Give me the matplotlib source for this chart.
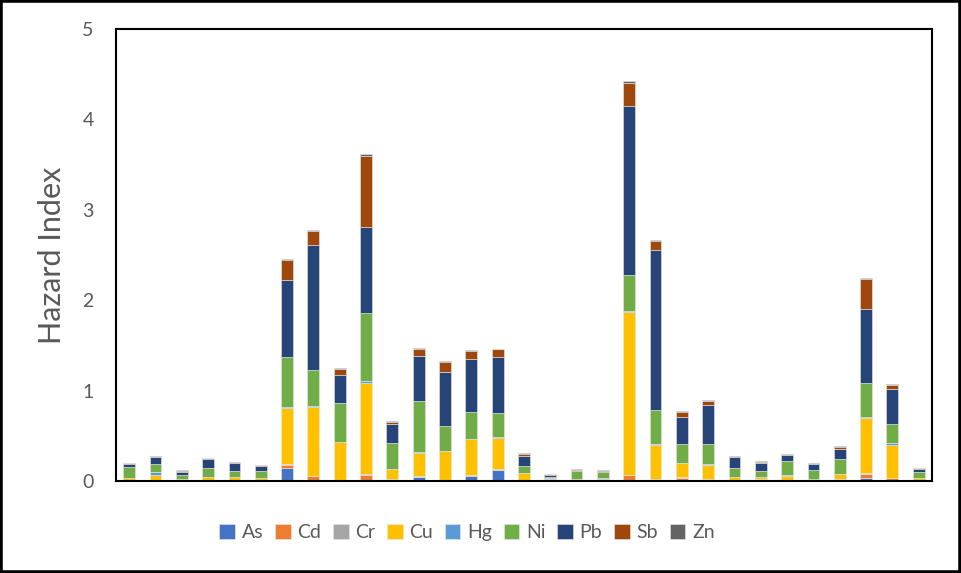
import matplotlib.pyplot as plt
import numpy as np

# Hazard index per metal, one value per sampling site (31 sites)
metals = ["As", "Cd", "Cr", "Cu", "Hg", "Ni", "Pb", "Sb", "Zn"]

As = [0.003, 0.003, 0.002, 0.003, 0.003, 0.003, 0.145, 0.005, 0.003, 0.005, 0.003,
      0.04, 0.003, 0.06, 0.12, 0.003, 0.002, 0.002, 0.002, 0.015, 0.015, 0.015,
      0.003, 0.003, 0.003, 0.002, 0.002, 0.003, 0.035, 0.005, 0.002]
Cd = [0.005, 0.005, 0.003, 0.005, 0.004, 0.004, 0.035, 0.045, 0.005, 0.065, 0.012,
      0.008, 0.003, 0.005, 0.005, 0.007, 0.003, 0.003, 0.003, 0.05, 0.003, 0.02,
      0.015, 0.005, 0.015, 0.003, 0.002, 0.012, 0.045, 0.025, 0.003]
Cr = [0.002, 0.003, 0.002, 0.003, 0.003, 0.002, 0.01, 0.005, 0.003, 0.007, 0.005,
      0.003, 0.002, 0.005, 0.005, 0.002, 0.002, 0.002, 0.002, 0.005, 0.003, 0.005,
      0.002, 0.002, 0.003, 0.002, 0.002, 0.002, 0.008, 0.005, 0.002]
Cu = [0.02, 0.06, 0.01, 0.035, 0.03, 0.02, 0.62, 0.765, 0.415, 1.01, 0.115,
      0.26, 0.325, 0.394, 0.35, 0.078, 0.02, 0.015, 0.015, 1.80, 0.38, 0.16,
      0.162, 0.035, 0.025, 0.052, 0.015, 0.059, 0.61, 0.368, 0.022]
Hg = [0.003, 0.025, 0.005, 0.003, 0.003, 0.003, 0.01, 0.005, 0.003, 0.02, 0.003,
      0.007, 0.002, 0.005, 0.005, 0.002, 0.003, 0.002, 0.01, 0.005, 0.003, 0.003,
      0.002, 0.003, 0.003, 0.002, 0.003, 0.002, 0.005, 0.02, 0.002]
Ni = [0.12, 0.096, 0.048, 0.092, 0.063, 0.074, 0.55, 0.40, 0.435, 0.755, 0.28,
      0.568, 0.273, 0.295, 0.265, 0.078, 0.015, 0.085, 0.066, 0.405, 0.376, 0.21,
      0.226, 0.10, 0.062, 0.162, 0.10, 0.169, 0.38, 0.207, 0.063]
Pb = [0.04, 0.07, 0.03, 0.10, 0.09, 0.055, 0.85, 1.385, 0.305, 0.945, 0.21,
      0.50, 0.598, 0.583, 0.62, 0.105, 0.025, 0.005, 0.005, 1.873, 1.774, 0.292,
      0.427, 0.114, 0.085, 0.059, 0.067, 0.111, 0.82, 0.383, 0.04]
Sb = [0.005, 0.008, 0.01, 0.008, 0.008, 0.015, 0.22, 0.15, 0.07, 0.79, 0.02,
      0.07, 0.115, 0.09, 0.085, 0.025, 0.003, 0.003, 0.008, 0.25, 0.10, 0.062,
      0.052, 0.005, 0.018, 0.008, 0.002, 0.018, 0.33, 0.048, 0.005]
Zn = [0.005, 0.007, 0.01, 0.01, 0.007, 0.005, 0.015, 0.015, 0.01, 0.015, 0.012,
      0.02, 0.008, 0.01, 0.01, 0.008, 0.004, 0.01, 0.01, 0.022, 0.012, 0.008,
      0.011, 0.01, 0.008, 0.01, 0.008, 0.015, 0.015, 0.012, 0.008]

# Couleurs Office par défaut
colors = ["#4472C4", "#ED7D31", "#A5A5A5", "#FFC000", "#5B9BD5",
          "#70AD47", "#264478", "#9E480E", "#636363"]

series = [As, Cd, Cr, Cu, Hg, Ni, Pb, Sb, Zn]
sites = np.arange(len(As))

plt.rcParams['font.family'] = ['Lato', 'DejaVu Sans']

fig = plt.figure(figsize=(9.61, 5.73), dpi=100)
ax = fig.add_axes([0.1207, 0.1606, 0.849, 0.7888])

# Barres empilées
bottom = np.zeros(len(sites))
for name, values, color in zip(metals, series, colors):
    ax.bar(sites, values, width=0.45, bottom=bottom, color=color, label=name,
           edgecolor="#e8e8e8", linewidth=0.4)
    bottom += np.array(values)

ax.set_xlim(-0.5, len(sites) - 0.5)
ax.set_ylim(0, 5)
ax.set_xticks([])
ax.set_yticks([0, 1, 2, 3, 4, 5])
ax.tick_params(axis="y", length=0, pad=16, labelsize=14, labelcolor="#595959")
ax.set_ylabel("Hazard Index", fontsize=22, color="#595959", labelpad=12)

for side in ["left", "bottom", "top", "right"]:
    ax.spines[side].set_color("black")
    ax.spines[side].set_linewidth(1.5)

# Légende en bas
fig.legend(loc="center", bbox_to_anchor=(0.486, 0.07), ncol=9, frameon=False,
           fontsize=14, handlelength=0.8, handleheight=0.8, handletextpad=0.35,
           columnspacing=0.6, labelcolor="#595959")

# Cadre autour de la figure
fig.add_artist(plt.Rectangle((0, 0), 1, 1, transform=fig.transFigure,
                             fill=False, edgecolor="black", linewidth=4))

fig.savefig("out.png", dpi=100)
